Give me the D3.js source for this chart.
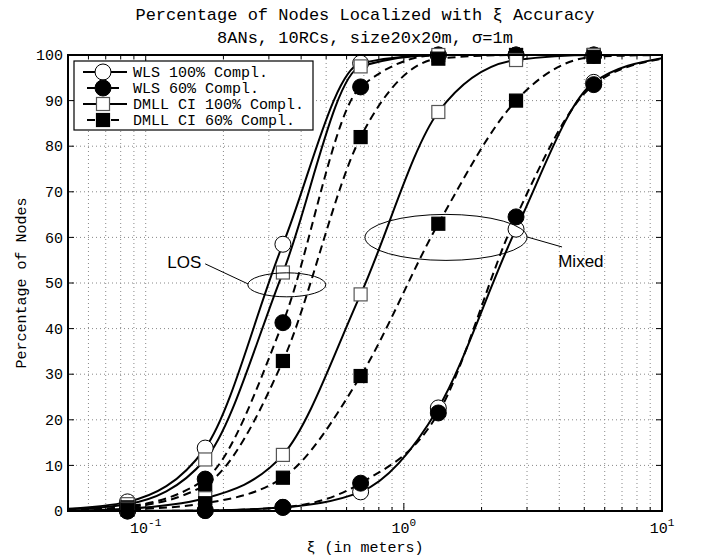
<!DOCTYPE html>
<html>
<head>
<meta charset="utf-8">
<script src="https://cdn.jsdelivr.net/npm/d3@7"></script>
<style>
  body { margin: 0; background: #fff; }
  text { font-family: "Liberation Mono", "DejaVu Sans Mono", monospace; fill: #000; }
  .note { font-family: "Liberation Sans", Arial, sans-serif; }
</style>
</head>
<body>
<div id="chart"></div>
<script>
// sample points (meters); first and last only carry the line to the axis edges
const xs = [0.05, 0.085, 0.17, 0.34, 0.68, 1.36, 2.72, 5.44, 10];

// LOS scenario
const losWls100 = [0.5, 2, 13.8, 58.5, 98.2, 100, 100, 100, 100];
const losWls60 = [0.2, 1, 7, 41.3, 93, 100, 100, 100, 100];
const losDmll100 = [0.4, 1.5, 11.3, 52.3, 97.5, 100, 100, 100, 100];
const losDmll60 = [0.1, 0.8, 5.7, 32.9, 82, 99.2, 100, 100, 100];

// Mixed scenario
const mixWls100 = [0, 0, 0.1, 0.8, 4.2, 22.6, 61.8, 94, 99.3];
const mixWls60 = [0, 0, 0.1, 0.8, 6.1, 21.5, 64.5, 93.5, 99.2];
const mixDmll100 = [0.1, 0.5, 2.8, 12.3, 47.5, 87.5, 98.9, 100, 100];
const mixDmll60 = [0, 0.3, 1.7, 7.3, 29.6, 63, 90, 99.6, 100];

const legendLabels = ['WLS 100% Compl.', 'WLS 60% Compl.', 'DMLL CI 100% Compl.', 'DMLL CI 60% Compl.'];
const yTicks = [0, 10, 20, 30, 40, 50, 60, 70, 80, 90, 100];
const xMajor = [0.1, 1, 10];
const xMinor = [0.06, 0.07, 0.08, 0.09, 0.2, 0.3, 0.4, 0.5, 0.6, 0.7, 0.8, 0.9, 2, 3, 4, 5, 6, 7, 8, 9];

const styles = [
  { marker: 'circle', filled: false, dashed: false },
  { marker: 'circle', filled: true, dashed: true },
  { marker: 'square', filled: false, dashed: false },
  { marker: 'square', filled: true, dashed: true },
];

const series = [
  { values: losWls100, style: 0 },
  { values: losWls60, style: 1 },
  { values: losDmll100, style: 2 },
  { values: losDmll60, style: 3 },
  { values: mixWls100, style: 0 },
  { values: mixWls60, style: 1 },
  { values: mixDmll100, style: 2 },
  { values: mixDmll60, style: 3 },
];

// annotation ellipses, centred in data units, radii in px
const notes = [
  { label: 'LOS', cx: 0.352, cy: 49.6, rx: 39, ry: 12, tx: 0.141, ty: 54.6, from: [0.170, 54.2], to: [0.249, 49.8] },
  { label: 'Mixed', cx: 1.456, cy: 60, rx: 81, ry: 23, tx: 4.85, ty: 54.8, from: [3.0, 60.1], to: [4.1, 57.9] },
];

const W = 702, H = 556;
const margin = { top: 55, right: 40, bottom: 45, left: 68 };
const width = W - margin.left - margin.right;
const height = H - margin.top - margin.bottom;

const svg = d3.select('#chart').append('svg')
  .attr('width', W)
  .attr('height', H);

const g = svg.append('g')
  .attr('transform', `translate(${margin.left},${margin.top})`);

const x = d3.scaleLog().domain([0.05, 10]).range([0, width]);
const y = d3.scaleLinear().domain([0, 100]).range([height, 0]);

// dotted grid
const grid = g.append('g').attr('stroke', '#888').attr('stroke-width', 1).attr('stroke-dasharray', '1,3');
grid.selectAll('.gx').data(xMajor.concat(xMinor).filter(v => v < 10))
  .enter().append('line')
    .attr('x1', d => x(d)).attr('x2', d => x(d))
    .attr('y1', 0).attr('y2', height);
grid.selectAll('.gy').data(yTicks.filter(v => v > 0 && v < 100))
  .enter().append('line')
    .attr('x1', 0).attr('x2', width)
    .attr('y1', d => y(d)).attr('y2', d => y(d));

// ticks, pointing inward on all four sides
const ticks = g.append('g').attr('stroke', '#000').attr('stroke-width', 1);
xMajor.concat(xMinor).forEach(v => {
  const len = xMajor.includes(v) ? 8 : 4;
  ticks.append('line').attr('x1', x(v)).attr('x2', x(v)).attr('y1', height).attr('y2', height - len);
  ticks.append('line').attr('x1', x(v)).attr('x2', x(v)).attr('y1', 0).attr('y2', len);
});
yTicks.forEach(v => {
  ticks.append('line').attr('x1', 0).attr('x2', 6).attr('y1', y(v)).attr('y2', y(v));
  ticks.append('line').attr('x1', width).attr('x2', width - 6).attr('y1', y(v)).attr('y2', y(v));
});

// tick labels
g.append('g').selectAll('text').data(yTicks)
  .enter().append('text')
    .attr('x', -5)
    .attr('y', d => y(d))
    .attr('dy', '0.35em')
    .attr('text-anchor', 'end')
    .style('font-size', '15px')
    .text(d => d);

const xl = g.append('g').selectAll('text').data(xMajor)
  .enter().append('text')
    .attr('x', d => x(d))
    .attr('y', height + 22)
    .attr('text-anchor', 'middle')
    .style('font-size', '15px');
xl.append('tspan').text('10');
xl.append('tspan').attr('dy', -7).style('font-size', '11px').text(d => Math.round(Math.log10(d)));

// curves
const clip = g.append('clipPath').attr('id', 'clip')
  .append('rect').attr('width', width).attr('height', height);

const line = d3.line()
  .x((d, i) => x(xs[i]))
  .y(d => y(d))
  .curve(d3.curveMonotoneX);

const plot = g.append('g').attr('clip-path', 'url(#clip)');
series.forEach(s => {
  const st = styles[s.style];
  plot.append('path')
    .datum(s.values)
    .attr('d', line)
    .attr('fill', 'none')
    .attr('stroke', '#000')
    .attr('stroke-width', 2)
    .attr('stroke-dasharray', st.dashed ? '8,5' : null);
});

function drawMarker(sel, st, cx, cy) {
  if (st.marker === 'circle') {
    sel.append('circle')
      .attr('cx', cx).attr('cy', cy).attr('r', 8)
      .attr('fill', st.filled ? '#000' : '#fff')
      .attr('stroke', '#000').attr('stroke-width', 1);
  } else {
    sel.append('rect')
      .attr('x', cx - 6.5).attr('y', cy - 6.5).attr('width', 13).attr('height', 13)
      .attr('fill', st.filled ? '#000' : '#fff')
      .attr('stroke', st.filled ? '#000' : '#555').attr('stroke-width', 1.2);
  }
}

const markers = g.append('g');
series.forEach(s => {
  const st = styles[s.style];
  s.values.forEach((v, i) => {
    if (i === 0 || i === xs.length - 1) return;
    drawMarker(markers, st, x(xs[i]), y(v));
  });
});

// annotations
notes.forEach(n => {
  g.append('ellipse')
    .attr('cx', x(n.cx)).attr('cy', y(n.cy))
    .attr('rx', n.rx).attr('ry', n.ry)
    .attr('fill', 'none').attr('stroke', '#000').attr('stroke-width', 1);
  g.append('line')
    .attr('x1', x(n.from[0])).attr('y1', y(n.from[1]))
    .attr('x2', x(n.to[0])).attr('y2', y(n.to[1]))
    .attr('stroke', '#000').attr('stroke-width', 1);
  g.append('text')
    .attr('class', 'note')
    .attr('x', x(n.tx)).attr('y', y(n.ty))
    .attr('dy', '0.35em')
    .attr('text-anchor', 'middle')
    .style('font-size', '17px')
    .text(n.label);
});

// axes box
g.append('rect')
  .attr('width', width).attr('height', height)
  .attr('fill', 'none').attr('stroke', '#000').attr('stroke-width', 2);

// legend
const legend = g.append('g').attr('transform', 'translate(6,6)');
legend.append('rect')
  .attr('width', 239).attr('height', 69)
  .attr('fill', '#fff').attr('stroke', '#000').attr('stroke-width', 1.2);
legendLabels.forEach((lab, i) => {
  const st = styles[i];
  const row = legend.append('g').attr('transform', `translate(0,${11 + i * 16})`);
  row.append('line')
    .attr('x1', 9).attr('x2', 53).attr('y1', 0).attr('y2', 0)
    .attr('stroke', '#000').attr('stroke-width', 2)
    .attr('stroke-dasharray', st.dashed ? '8,16' : null)
    .attr('stroke-dashoffset', st.dashed ? -4 : null);
  drawMarker(row, st, 29, 0);
  row.append('text')
    .attr('x', 59).attr('y', 0).attr('dy', '0.35em')
    .style('font-size', '15px')
    .text(lab);
});

// titles and axis labels
svg.append('text')
  .attr('x', margin.left + width / 2).attr('y', 20)
  .attr('text-anchor', 'middle')
  .style('font-size', '17px')
  .text('Percentage of Nodes Localized with ξ Accuracy');
svg.append('text')
  .attr('x', margin.left + width / 2).attr('y', 43)
  .attr('text-anchor', 'middle')
  .style('font-size', '17px')
  .text('8ANs, 10RCs, size20x20m, σ=1m');
svg.append('text')
  .attr('x', margin.left + width / 2).attr('y', 552)
  .attr('text-anchor', 'middle')
  .style('font-size', '15px')
  .text('ξ (in meters)');
svg.append('text')
  .attr('transform', `translate(26,${margin.top + height / 2}) rotate(-90)`)
  .attr('text-anchor', 'middle')
  .style('font-size', '15px')
  .text('Percentage of Nodes');
</script>
</body>
</html>
